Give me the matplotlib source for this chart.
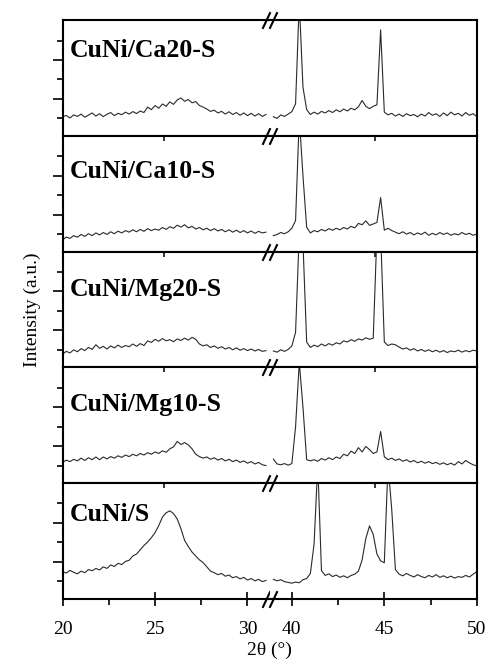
import numpy as np
import matplotlib
matplotlib.use('Agg')
import matplotlib.pyplot as plt

plt.rcParams['font.family'] = ['Liberation Serif', 'DejaVu Serif']

# 2-theta grids (deg) of the two scanned windows
theta_lo = np.round(np.arange(20.0, 31.01, 0.2), 1)
theta_hi = np.round(np.arange(39.0, 50.01, 0.2), 1)

samples = ['CuNi/Ca20-S', 'CuNi/Ca10-S', 'CuNi/Mg20-S', 'CuNi/Mg10-S', 'CuNi/S']

# intensities (a.u.)
ca20_lo = [1.08, 1.15, 1.02, 1.18, 1.10, 1.22, 1.06, 1.17, 1.28, 1.12,
           1.24, 1.09, 1.21, 1.30, 1.14, 1.26, 1.19, 1.32, 1.22, 1.35,
           1.25, 1.38, 1.30, 1.58, 1.45, 1.66, 1.52, 1.74, 1.62, 1.85,
           1.72, 1.95, 2.05, 1.88, 1.97, 1.80, 1.86, 1.66, 1.58, 1.48,
           1.36, 1.42, 1.28, 1.36, 1.22, 1.34, 1.20, 1.30, 1.16, 1.28,
           1.14, 1.26, 1.12, 1.24, 1.10, 1.20]
ca20_hi = [1.08, 1.00, 1.18, 1.10, 1.22, 1.35, 1.75, 7.00, 2.60, 1.45,
           1.20, 1.32, 1.22, 1.36, 1.28, 1.40, 1.30, 1.44, 1.34, 1.48,
           1.38, 1.52, 1.44, 1.60, 1.92, 1.62, 1.50, 1.62, 1.70, 5.55,
           1.32, 1.18, 1.26, 1.12, 1.22, 1.10, 1.24, 1.14, 1.20, 1.08,
           1.22, 1.12, 1.30, 1.16, 1.24, 1.10, 1.28, 1.14, 1.32, 1.18,
           1.26, 1.12, 1.30, 1.16, 1.24, 1.10]

ca10_lo = [0.70, 0.85, 0.78, 0.92, 0.84, 0.98, 0.88, 1.02, 0.92, 1.06,
           0.96, 1.08, 0.98, 1.12, 1.02, 1.15, 1.06, 1.18, 1.10, 1.22,
           1.12, 1.24, 1.14, 1.28, 1.18, 1.26, 1.20, 1.34, 1.24, 1.38,
           1.30, 1.46, 1.36, 1.48, 1.32, 1.40, 1.26, 1.34, 1.22, 1.30,
           1.18, 1.28, 1.16, 1.24, 1.12, 1.22, 1.10, 1.20, 1.08, 1.18,
           1.06, 1.16, 1.04, 1.14, 1.06, 1.10]
ca10_hi = [0.92, 0.98, 1.08, 1.02, 1.12, 1.30, 1.70, 7.00, 4.00, 1.35,
           1.06, 1.18, 1.12, 1.24, 1.16, 1.28, 1.20, 1.30, 1.22, 1.34,
           1.26, 1.40, 1.32, 1.55, 1.48, 1.68, 1.45, 1.52, 1.60, 2.88,
           1.20, 1.30, 1.18, 1.10, 1.02, 1.12, 1.00, 1.08, 0.96, 1.06,
           0.98, 1.10, 0.94, 1.04, 0.96, 1.08, 0.98, 1.06, 0.94, 1.02,
           0.96, 1.08, 0.98, 1.04, 0.94, 1.00]

mg20_lo = [0.78, 0.92, 0.84, 1.00, 0.90, 1.06, 0.96, 1.12, 1.02, 1.26,
           1.08, 1.18, 1.04, 1.20, 1.10, 1.24, 1.12, 1.22, 1.16, 1.30,
           1.18, 1.32, 1.22, 1.46, 1.38, 1.54, 1.44, 1.58, 1.46, 1.52,
           1.42, 1.56, 1.48, 1.60, 1.50, 1.64, 1.54, 1.30, 1.20, 1.26,
           1.12, 1.20, 1.08, 1.16, 1.04, 1.12, 1.00, 1.10, 0.98, 1.06,
           0.96, 1.04, 0.94, 1.02, 0.92, 0.96]
mg20_hi = [0.94, 0.88, 1.00, 0.92, 1.02, 1.20, 1.90, 7.00, 6.50, 1.40,
           1.12, 1.24, 1.16, 1.30, 1.20, 1.32, 1.24, 1.36, 1.30, 1.46,
           1.40, 1.52, 1.44, 1.56, 1.50, 1.62, 1.54, 1.60, 7.00, 7.00,
           1.40, 1.22, 1.30, 1.26, 1.14, 1.04, 1.10, 0.98, 1.06, 0.94,
           1.02, 0.92, 1.00, 0.90, 0.98, 0.88, 0.96, 0.86, 0.94, 0.90,
           0.98, 0.88, 0.96, 0.90, 0.98, 0.94]

mg10_lo = [1.16, 1.28, 1.20, 1.32, 1.24, 1.38, 1.26, 1.40, 1.30, 1.44,
           1.30, 1.44, 1.34, 1.46, 1.38, 1.50, 1.42, 1.54, 1.46, 1.58,
           1.50, 1.62, 1.54, 1.66, 1.58, 1.70, 1.62, 1.76, 1.68, 1.86,
           1.96, 2.24, 2.08, 2.18, 2.06, 1.86, 1.58, 1.46, 1.38, 1.44,
           1.32, 1.40, 1.28, 1.36, 1.24, 1.32, 1.20, 1.28, 1.16, 1.24,
           1.12, 1.20, 1.08, 1.16, 1.04, 1.00]
mg10_hi = [1.33, 1.08, 1.04, 1.10, 1.02, 1.10, 3.00, 6.30, 4.00, 1.30,
           1.24, 1.30, 1.22, 1.36, 1.28, 1.40, 1.30, 1.44, 1.36, 1.58,
           1.50, 1.74, 1.62, 1.92, 1.70, 1.98, 1.82, 1.62, 1.70, 2.75,
           1.45, 1.30, 1.38, 1.26, 1.34, 1.22, 1.30, 1.18, 1.26, 1.14,
           1.22, 1.12, 1.20, 1.10, 1.16, 1.06, 1.14, 1.04, 1.12, 1.02,
           1.20, 1.08, 1.26, 1.14, 1.04, 0.98]

cuni_lo = [1.50, 1.42, 1.56, 1.46, 1.38, 1.52, 1.44, 1.60, 1.54, 1.66,
           1.58, 1.74, 1.66, 1.84, 1.76, 1.92, 1.86, 2.02, 2.08, 2.30,
           2.40, 2.62, 2.84, 3.02, 3.24, 3.50, 3.86, 4.30, 4.52, 4.62,
           4.48, 4.20, 3.70, 3.10, 2.78, 2.50, 2.30, 2.10, 1.96, 1.74,
           1.52, 1.44, 1.34, 1.40, 1.26, 1.32, 1.18, 1.24, 1.12, 1.20,
           1.06, 1.14, 1.02, 1.10, 0.98, 1.04]
cuni_hi = [1.10, 1.02, 1.08, 0.98, 0.94, 0.90, 0.96, 0.92, 1.08, 1.14,
           1.40, 2.90, 7.00, 1.55, 1.30, 1.38, 1.24, 1.32, 1.20, 1.28,
           1.18, 1.30, 1.36, 1.52, 2.10, 3.20, 3.85, 3.40, 2.40, 2.05,
           1.95, 7.00, 4.70, 1.60, 1.36, 1.28, 1.40, 1.30, 1.22, 1.34,
           1.24, 1.18, 1.30, 1.22, 1.34, 1.20, 1.28, 1.18, 1.26, 1.16,
           1.24, 1.20, 1.30, 1.22, 1.36, 1.50]

lows = [ca20_lo, ca10_lo, mg20_lo, mg10_lo, cuni_lo]
highs = [ca20_hi, ca10_hi, mg20_hi, mg10_hi, cuni_hi]
for lo, hi in zip(lows, highs):
    assert len(lo) == len(theta_lo) and len(hi) == len(theta_hi)

label_y = [0.68, 0.635, 0.62, 0.625, 0.675]

fig, axes = plt.subplots(5, 2, figsize=(4.89, 6.72), dpi=100)
fig.subplots_adjust(left=0.128, right=0.975, top=0.970, bottom=0.109,
                    hspace=0, wspace=0)

slash = [(-0.47, -1), (0.47, 1)]
line_kw = dict(color='#2a2a2a', lw=0.8)

for i, (name, lo, hi) in enumerate(zip(samples, lows, highs)):
    axl, axr = axes[i]
    axl.plot(theta_lo, lo, **line_kw)
    axr.plot(theta_hi, hi, **line_kw)
    axl.set_xlim(20, 31.2)
    axr.set_xlim(38.8, 50)
    for ax in (axl, axr):
        ax.set_ylim(0.1, 6.05)
        for sp in ax.spines.values():
            sp.set_linewidth(1.5)
    axl.spines['right'].set_visible(False)
    axr.spines['left'].set_visible(False)

    axl.set_yticks([2, 4])
    axl.set_yticks([1, 3, 5], minor=True)
    axl.set_yticklabels([])
    axl.tick_params(axis='y', which='major', direction='out', length=7, width=1.2)
    axl.tick_params(axis='y', which='minor', direction='out', length=4, width=1.2)
    axr.set_yticks([])

    if i == len(samples) - 1:
        axl.set_xticks([20, 25, 30])
        axl.set_xticks([22.5, 27.5], minor=True)
        axr.set_xticks([40, 45, 50])
        axr.set_xticks([42.5, 47.5], minor=True)
        for ax in (axl, axr):
            ax.tick_params(axis='x', which='major', direction='inout', length=9.5,
                           width=1.2, pad=11, labelsize=14)
            ax.tick_params(axis='x', which='minor', direction='out', length=4, width=1.2)
    else:
        for ax in (axl, axr):
            ax.set_xticks([])

    if i > 0:
        for ax, pos in ((axl, 25.5), (axr, 44.5)):
            sec = ax.secondary_xaxis('top')
            sec.set_xticks([pos])
            sec.tick_params(direction='in', length=3.5, width=1.1, labeltop=False)
            sec.spines['top'].set_visible(False)

    axl.text(0.035, label_y[i], name, transform=axl.transAxes,
             fontsize=18.5, fontweight='bold', va='baseline', ha='left')

    # axis break marks
    ys = [1, 0] if i == len(samples) - 1 else [1]
    for yy in ys:
        axl.plot([0.982], [yy], transform=axl.transAxes, marker=slash,
                 markersize=12, mew=1.5, color='k', ls='none', clip_on=False, zorder=5)
        axr.plot([0.016], [yy], transform=axr.transAxes, marker=slash,
                 markersize=12, mew=1.5, color='k', ls='none', clip_on=False, zorder=5)

fig.text(32 / 489, 1 - 309.5 / 672, 'Intensity (a.u.)', rotation=90,
         ha='center', va='center', fontsize=14)
fig.text(269.7 / 489, 1 - 650 / 672, '2θ (°)', ha='center', va='center', fontsize=14)

fig.savefig('out.png', dpi=100)
